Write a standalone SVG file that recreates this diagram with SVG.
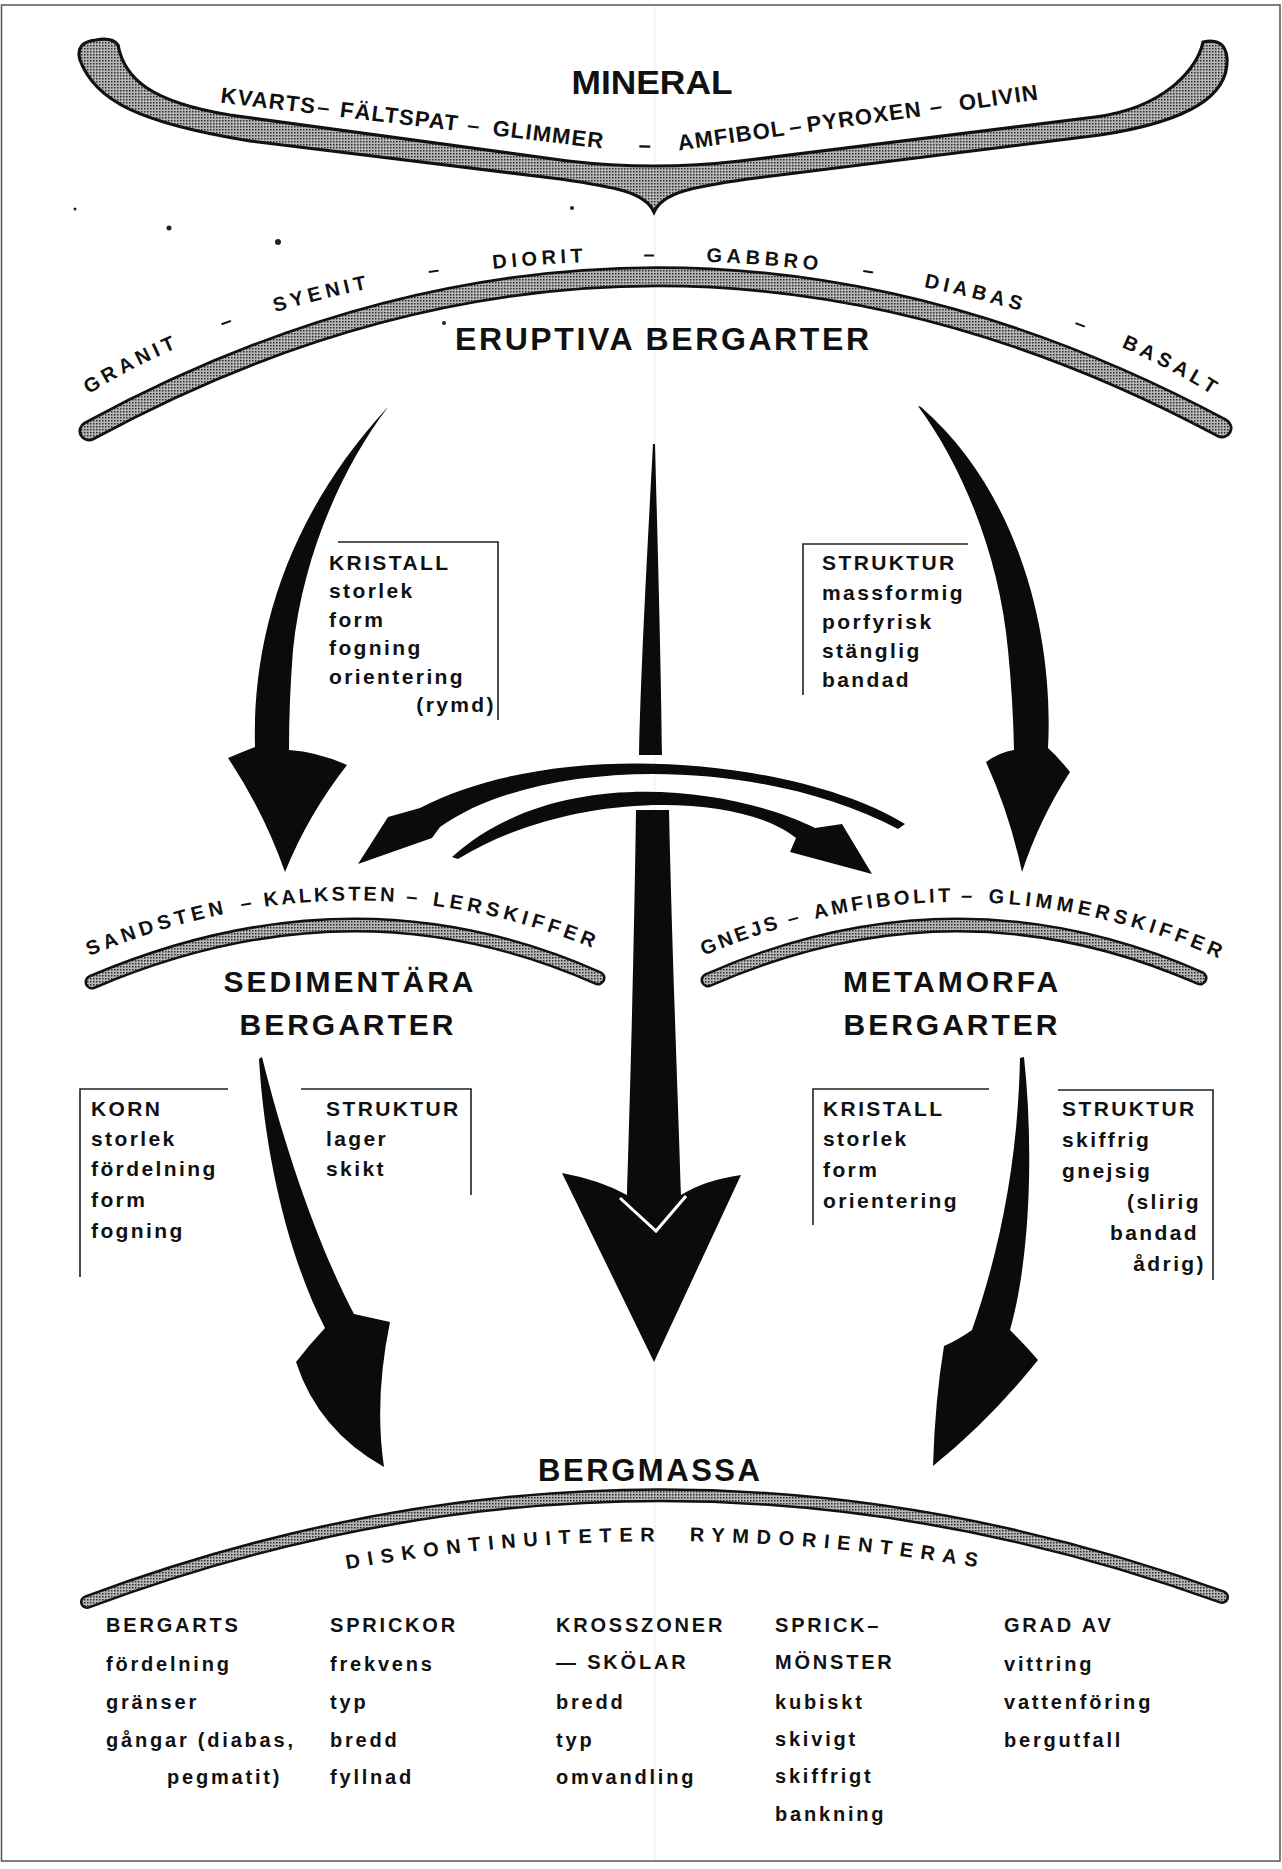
<svg xmlns="http://www.w3.org/2000/svg" width="1282" height="1869" viewBox="0 0 1282 1869">
<defs>
<pattern id="dots" width="3" height="3" patternUnits="userSpaceOnUse">
<rect width="3" height="3" fill="#b6b6b6"/>
<rect width="1.5" height="1.5" fill="#2a2a2a"/>
</pattern>
<path id="pMin" d="M 225,103 L 615,150 Q 645,154 675,151 L 1050,98"/>
<path id="pEru" d="M 60,414 A 700 332 0 0 1 1240,414"/>
<path id="pSed" d="M 80,960 Q 352,843 612,956"/>
<path id="pMet" d="M 694,960 Q 956,845 1218,958"/>
<path id="pBer" d="M 310,1576 Q 668,1506 1030,1577"/>
</defs>
<style>
.t{font-family:'Liberation Sans',Arial,Helvetica,sans-serif;font-weight:bold;fill:#111}
.ml{font-size:22px;letter-spacing:1.2px}
.lab{font-size:20px;letter-spacing:4.5px}
.bl{font-size:20px;letter-spacing:7.6px}
.ttl{font-size:30px;letter-spacing:3px}
.bx{font-size:21px;letter-spacing:2.4px}
.bot{font-size:20px;letter-spacing:2.8px}
.ln{fill:none;stroke:#222;stroke-width:1.6}
.bo{fill:none;stroke:#111;stroke-linecap:round}
.bi{fill:none;stroke:url(#dots);stroke-linecap:round}
</style>
<rect width="1282" height="1869" fill="#fff"/>
<line x1="655" y1="5" x2="655" y2="1861" stroke="#ececec" stroke-width="1"/>
<rect x="1.5" y="5" width="1278.5" height="1856" fill="none" stroke="#555" stroke-width="1.5"/>

<g id="specks" fill="#222">
<circle cx="75" cy="209" r="1.5"/>
<circle cx="169" cy="228" r="2.5"/>
<circle cx="278" cy="242" r="3"/>
<circle cx="572" cy="208" r="2"/>
<circle cx="444" cy="323" r="2"/>
</g>

<g id="node-mineral">
<path d="M 96,40 Q 75,42 80,60 C 95,101 140,123 250,141 L 560,179 C 615,187 645,192 654,212 C 663,192 693,187 748,179 L 1100,135 C 1191,121 1229,95 1227,58 Q 1225,37 1203,42 C 1198,68 1165,108 1095,117 L 740,161 Q 654,171 568,161 L 230,115 C 150,102 124,78 118,45 Q 112,37 96,40 Z" fill="url(#dots)" stroke="#111" stroke-width="3.2"/>
<text class="t" x="652" y="94" font-size="33" text-anchor="middle" textLength="161" lengthAdjust="spacingAndGlyphs">MINERAL</text>
<g class="t ml" text-anchor="middle">
<text><textPath href="#pMin" startOffset="43">KVARTS</textPath></text>
<text><textPath href="#pMin" startOffset="99">–</textPath></text>
<text><textPath href="#pMin" startOffset="175">FÄLTSPAT</textPath></text>
<text><textPath href="#pMin" startOffset="250">–</textPath></text>
<text><textPath href="#pMin" startOffset="325">GLIMMER</textPath></text>
<text><textPath href="#pMin" startOffset="423">–</textPath></text>
<text><textPath href="#pMin" startOffset="511">AMFIBOL</textPath></text>
<text><textPath href="#pMin" startOffset="576">–</textPath></text>
<text><textPath href="#pMin" startOffset="645">PYROXEN</textPath></text>
<text><textPath href="#pMin" startOffset="718">–</textPath></text>
<text><textPath href="#pMin" startOffset="781">OLIVIN</textPath></text>
</g>
</g>

<g id="node-eruptiva">
<path class="bo" d="M 89,431 Q 654,124 1222,428" stroke-width="21"/>
<path class="bi" d="M 89,431 Q 654,124 1222,428" stroke-width="15.5"/>
<text class="t" x="662" y="350" font-size="32" text-anchor="middle" textLength="414" lengthAdjust="spacing">ERUPTIVA BERGARTER</text>
<g class="t lab" text-anchor="middle">
<text><textPath href="#pEru" startOffset="87">GRANIT</textPath></text>
<text><textPath href="#pEru" startOffset="192">–</textPath></text>
<text><textPath href="#pEru" startOffset="289">SYENIT</textPath></text>
<text><textPath href="#pEru" startOffset="405">–</textPath></text>
<text><textPath href="#pEru" startOffset="509">DIORIT</textPath></text>
<text><textPath href="#pEru" startOffset="620">–</textPath></text>
<text><textPath href="#pEru" startOffset="733">GABBRO</textPath></text>
<text><textPath href="#pEru" startOffset="839">–</textPath></text>
<text><textPath href="#pEru" startOffset="946">DIABAS</textPath></text>
<text><textPath href="#pEru" startOffset="1057">–</textPath></text>
<text><textPath href="#pEru" startOffset="1154">BASALT</textPath></text>
</g>
</g>

<g id="box-eruptiva-kristall">
<path class="ln" d="M 338,542 H 498 V 720"/>
<g class="t bx">
<text x="329" y="570">KRISTALL</text>
<text x="329" y="598">storlek</text>
<text x="329" y="627">form</text>
<text x="329" y="655">fogning</text>
<text x="329" y="684">orientering</text>
<text x="496" y="712" text-anchor="end">(rymd)</text>
</g>
</g>

<g id="box-eruptiva-struktur">
<path class="ln" d="M 968,544 H 803 V 695"/>
<g class="t bx">
<text x="822" y="570">STRUKTUR</text>
<text x="822" y="600">massformig</text>
<text x="822" y="629">porfyrisk</text>
<text x="822" y="658">stänglig</text>
<text x="822" y="687">bandad</text>
</g>
</g>

<g id="node-sedimentara">
<path class="bo" d="M 92,982 Q 355,870 598,978" stroke-width="15"/>
<path class="bi" d="M 92,982 Q 355,870 598,978" stroke-width="10"/>
<g class="t lab" text-anchor="middle">
<text><textPath href="#pSed" startOffset="83">SANDSTEN</textPath></text>
<text><textPath href="#pSed" startOffset="177">–</textPath></text>
<text style="letter-spacing:3px"><textPath href="#pSed" startOffset="259">KALKSTEN</textPath></text>
<text><textPath href="#pSed" startOffset="342">–</textPath></text>
<text><textPath href="#pSed" startOffset="446">LERSKIFFER</textPath></text>
</g>
<g class="t ttl" text-anchor="middle">
<text x="350" y="992">SEDIMENTÄRA</text>
<text x="348" y="1035">BERGARTER</text>
</g>
</g>

<g id="node-metamorfa">
<path class="bo" d="M 708,980 Q 956,871 1200,978" stroke-width="15"/>
<path class="bi" d="M 708,980 Q 956,871 1200,978" stroke-width="10"/>
<g class="t lab" text-anchor="middle">
<text style="letter-spacing:3px"><textPath href="#pMet" startOffset="52">GNEJS</textPath></text>
<text><textPath href="#pMet" startOffset="109">–</textPath></text>
<text style="letter-spacing:3.5px"><textPath href="#pMet" startOffset="198">AMFIBOLIT</textPath></text>
<text><textPath href="#pMet" startOffset="283">–</textPath></text>
<text><textPath href="#pMet" startOffset="424">GLIMMERSKIFFER</textPath></text>
</g>
<g class="t ttl" text-anchor="middle">
<text x="952" y="992">METAMORFA</text>
<text x="952" y="1035">BERGARTER</text>
</g>
</g>

<g id="box-sed-korn">
<path class="ln" d="M 228,1089 H 80 V 1277"/>
<g class="t bx">
<text x="91" y="1116">KORN</text>
<text x="91" y="1146">storlek</text>
<text x="91" y="1176">fördelning</text>
<text x="91" y="1207">form</text>
<text x="91" y="1238">fogning</text>
</g>
</g>

<g id="box-sed-struktur">
<path class="ln" d="M 301,1089 H 471 V 1195"/>
<g class="t bx">
<text x="326" y="1116">STRUKTUR</text>
<text x="326" y="1146">lager</text>
<text x="326" y="1176">skikt</text>
</g>
</g>

<g id="box-met-kristall">
<path class="ln" d="M 989,1089 H 813 V 1225"/>
<g class="t bx">
<text x="823" y="1116">KRISTALL</text>
<text x="823" y="1146">storlek</text>
<text x="823" y="1177">form</text>
<text x="823" y="1208">orientering</text>
</g>
</g>

<g id="box-met-struktur">
<path class="ln" d="M 1058,1090 H 1213 V 1280"/>
<g class="t bx">
<text x="1062" y="1116">STRUKTUR</text>
<text x="1062" y="1147">skiffrig</text>
<text x="1062" y="1178">gnejsig</text>
<text x="1201" y="1209" text-anchor="end">(slirig</text>
<text x="1199" y="1240" text-anchor="end">bandad</text>
<text x="1206" y="1271" text-anchor="end">ådrig)</text>
</g>
</g>

<g id="node-bergmassa">
<path class="bo" d="M 87,1602 Q 653,1391 1222,1597" stroke-width="14"/>
<path class="bi" d="M 87,1602 Q 653,1391 1222,1597" stroke-width="9"/>
<text class="t" x="649" y="1481" font-size="31" text-anchor="middle" textLength="222" lengthAdjust="spacing">BERGMASSA</text>
<g class="t bl" text-anchor="middle">
<text><textPath href="#pBer" startOffset="196">DISKONTINUITETER</textPath></text>
<text><textPath href="#pBer" startOffset="530">RYMDORIENTERAS</textPath></text>
</g>
</g>

<g id="bergmassa-columns" class="t bot">
<text x="106" y="1632">BERGARTS</text>
<text x="106" y="1671">fördelning</text>
<text x="106" y="1709">gränser</text>
<text x="106" y="1747">gångar (diabas,</text>
<text x="167" y="1784">pegmatit)</text>
<text x="330" y="1632">SPRICKOR</text>
<text x="330" y="1671">frekvens</text>
<text x="330" y="1709">typ</text>
<text x="330" y="1747">bredd</text>
<text x="330" y="1784">fyllnad</text>
<text x="556" y="1632">KROSSZONER</text>
<text x="556" y="1669">— SKÖLAR</text>
<text x="556" y="1709">bredd</text>
<text x="556" y="1747">typ</text>
<text x="556" y="1784">omvandling</text>
<text x="775" y="1632">SPRICK–</text>
<text x="775" y="1669">MÖNSTER</text>
<text x="775" y="1709">kubiskt</text>
<text x="775" y="1746">skivigt</text>
<text x="775" y="1783">skiffrigt</text>
<text x="775" y="1821">bankning</text>
<text x="1004" y="1632">GRAD AV</text>
<text x="1004" y="1671">vittring</text>
<text x="1004" y="1709">vattenföring</text>
<text x="1004" y="1747">bergutfall</text>
</g>

<g id="connectors" fill="#0b0b0b">
<path id="arrow-eru-sed" d="M 388,407 C 340,470 302,560 293,650 Q 289,700 289,750 Q 318,752 347,765 Q 308,815 285,872 Q 264,812 228,758 Q 242,752 255,747 C 252,640 285,520 386,409 Z"/>
<path id="arrow-eru-met" d="M 918,406 C 965,470 1000,560 1008,650 Q 1013,700 1014,750 Q 1000,752 986,762 Q 1010,815 1022,872 Q 1040,818 1070,772 Q 1058,757 1048,748 C 1054,640 1022,495 921,407 Z"/>
<path id="arrow-up-eru" d="M 653,444 C 649,520 641,660 639,755 L 662,755 C 661,660 657,520 655,444 Z"/>
<path id="arrow-down-berg" d="M 636,810 L 669,810 C 672,950 678,1100 681,1195 Q 705,1180 741,1175 L 654,1362 L 562,1173 Q 600,1180 627,1195 C 630,1100 634,950 636,810 Z"/>
<path d="M 620,1198 L 656,1231 L 686,1196" fill="none" stroke="#fff" stroke-width="3"/>
<path id="arrow-met-sed" d="M 905,824 C 800,760 560,735 420,808 L 388,817 L 358,864 L 432,838 L 440,827 C 540,756 760,756 898,829 Z"/>
<path id="arrow-sed-met" d="M 452,857 C 560,760 740,790 815,828 L 842,824 L 872,874 L 790,852 L 796,838 C 745,795 578,786 458,859 Z"/>
<path id="arrow-sed-berg" d="M 262,1057 C 285,1150 320,1250 354,1314 Q 372,1318 390,1322 Q 374,1400 384,1467 Q 318,1430 296,1362 Q 310,1344 325,1328 C 290,1260 265,1160 259,1059 Z"/>
<path id="arrow-met-berg" d="M 1024,1057 C 1034,1150 1030,1260 1010,1330 Q 1024,1344 1038,1360 Q 990,1420 933,1466 Q 935,1400 944,1346 Q 958,1340 972,1330 C 1000,1250 1018,1160 1020,1058 Z"/>
</g>
</svg>
